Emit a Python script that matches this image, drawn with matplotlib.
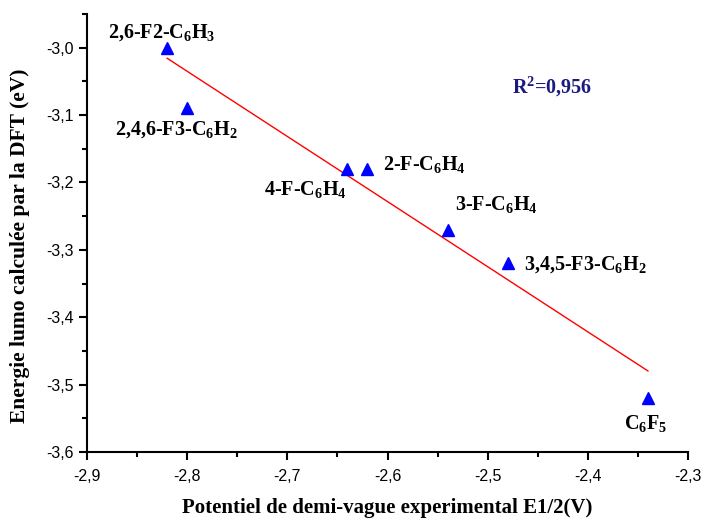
import numpy as np
import matplotlib
matplotlib.use("Agg")
import matplotlib.pyplot as plt
from matplotlib.ticker import FuncFormatter, MultipleLocator

# Formula subscripts rendered in bold serif like the surrounding text
plt.rcParams['mathtext.fontset'] = 'custom'
plt.rcParams['mathtext.rm'] = 'Liberation Serif:bold'
plt.rcParams['mathtext.it'] = 'Liberation Serif:bold'
plt.rcParams['mathtext.bf'] = 'Liberation Serif:bold'
plt.rcParams['mathtext.default'] = 'rm'

# Half-wave potential (V) and DFT LUMO energy (eV) per compound
e_half = [-2.82, -2.80, -2.64, -2.62, -2.54, -2.48, -2.34]
e_lumo = [-3.00, -3.09, -3.18, -3.18, -3.27, -3.32, -3.52]
names = ['2,6-F2-C$_6$H$_3$', '2,4,6-F3-C$_6$H$_2$', '4-F-C$_6$H$_4$',
         '2-F-C$_6$H$_4$', '3-F-C$_6$H$_4$', '3,4,5-F3-C$_6$H$_2$', 'C$_6$F$_5$']
label_pos = [(-2.879, -2.978), (-2.872, -3.122), (-2.723, -3.211),
             (-2.605, -3.174), (-2.533, -3.233), (-2.464, -3.322),
             (-2.364, -3.557)]
r2_text = 'R$^2$=0,956'

fig = plt.figure(figsize=(7.04, 5.18), dpi=100)
ax = fig.add_axes([0.1236, 0.1274, 0.8537, 0.8456])

x = np.array(e_half)
y = np.array(e_lumo)
slope, intercept = np.polyfit(x, y, 1)
xf = np.array([x.min(), x.max()])
ax.plot(xf, slope * xf + intercept, color='red', lw=1.0, zorder=2)
ax.plot(x, y, linestyle='none', marker='^', ms=9, color='#0000ff',
        markeredgecolor='#0000ff', zorder=3)

serif = 'Liberation Serif'
for name, (lx, ly) in zip(names, label_pos):
    ax.text(lx, ly, name, family=serif, fontweight='bold', fontsize=14.5,
            ha='left', va='center')
ax.text(-2.476, -3.059, r2_text, family=serif, fontweight='bold', fontsize=14.5,
        color='#1a1a80', ha='left', va='center')

ax.set_xlim(-2.9, -2.3)
ax.set_ylim(-3.6, -2.95)
ax.xaxis.set_major_locator(MultipleLocator(0.1))
ax.xaxis.set_minor_locator(MultipleLocator(0.05))
ax.yaxis.set_major_locator(MultipleLocator(0.1))
ax.yaxis.set_minor_locator(MultipleLocator(0.05))
fmt = FuncFormatter(lambda v, p: f'{v:.1f}'.replace('.', ','))
ax.xaxis.set_major_formatter(fmt)
ax.yaxis.set_major_formatter(fmt)

for s in ['top', 'right']:
    ax.spines[s].set_visible(False)
for s in ['left', 'bottom']:
    ax.spines[s].set_linewidth(1.5)
ax.tick_params(which='major', length=6, width=1.5, direction='out',
               labelsize=11.5)
ax.tick_params(axis='x', which='major', pad=6)
ax.tick_params(which='minor', length=3.5, width=1.5, direction='out')
for lab in ax.get_xticklabels() + ax.get_yticklabels():
    lab.set_family('Liberation Sans')

ax.set_xlabel('Potentiel de demi-vague experimental E1/2(V)', family=serif,
              fontweight='bold', fontsize=15)
ax.set_ylabel('Energie lumo calculée par la DFT (eV)', family=serif,
              fontweight='bold', fontsize=15.5)
ax.xaxis.set_label_coords(0.5, -0.104)
ax.yaxis.set_label_coords(-0.095, 0.47)

fig.savefig('out.png', dpi=100)
